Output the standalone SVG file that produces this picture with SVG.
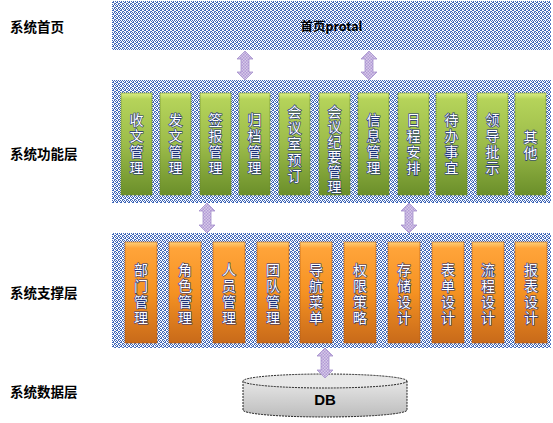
<svg xmlns="http://www.w3.org/2000/svg" width="553" height="423" viewBox="0 0 553 423">
<style>
.lbl{font-family:"Noto Sans CJK SC","Liberation Sans",sans-serif;font-size:13.5px;font-weight:bold;fill:#000}
.panel{fill:url(#weave)}
.g{fill:url(#gGreen);stroke:#6d8a2e;stroke-width:0.6}
.o{fill:url(#gOrange);stroke:#b35a14;stroke-width:0.6}
.bt{font-family:"Noto Sans CJK SC","Liberation Sans",sans-serif;font-size:14px;fill:#fff;stroke:#1b2f78;stroke-width:1.2;paint-order:stroke;text-anchor:middle}
.arr{fill:url(#lav);stroke:#a58fcb;stroke-width:0.8}
</style>
<defs>
<pattern id="weave" width="4" height="4" patternUnits="userSpaceOnUse">
<rect width="4" height="4" fill="#ffffff"/>
<rect x="0" y="0" width="1" height="1" fill="#3f66b8"/>
<rect x="2" y="0" width="1" height="1" fill="#3f66b8"/>
<rect x="1" y="1" width="1" height="1" fill="#3f66b8"/>
<rect x="3" y="1" width="1" height="1" fill="#3f66b8"/>
<rect x="0" y="2" width="2" height="1" fill="#3f66b8"/>
<rect x="3" y="3" width="1" height="1" fill="#3f66b8"/>
<rect x="2" y="3" width="1" height="1" fill="#5b80c8"/>
</pattern>
<pattern id="lav" width="3" height="3" patternUnits="userSpaceOnUse">
<rect width="3" height="3" fill="#d6cbe8"/>
<rect width="1.5" height="1.5" fill="#b39ad6"/>
<rect x="1.5" y="1.5" width="1.5" height="1.5" fill="#b39ad6"/>
</pattern>
<linearGradient id="gGreen" x1="0" y1="0" x2="0" y2="1">
<stop offset="0" stop-color="#d9ee84"/>
<stop offset="0.06" stop-color="#b5d35a"/>
<stop offset="0.5" stop-color="#9cbc4a"/>
<stop offset="1" stop-color="#6b8f2a"/>
</linearGradient>
<linearGradient id="gOrange" x1="0" y1="0" x2="0" y2="1">
<stop offset="0" stop-color="#ffd27a"/>
<stop offset="0.06" stop-color="#ffa43a"/>
<stop offset="0.5" stop-color="#f59222"/>
<stop offset="1" stop-color="#c86a1a"/>
</linearGradient>
<linearGradient id="gDb" x1="0" y1="0" x2="0" y2="1">
<stop offset="0" stop-color="#e6e6e6"/>
<stop offset="1" stop-color="#bdbdbd"/>
</linearGradient>
</defs>

<g id="layer-labels">
<text class="lbl" x="10" y="31.5">系统首页</text>
<text class="lbl" x="10" y="158.5">系统功能层</text>
<text class="lbl" x="10" y="297.5">系统支撑层</text>
<text class="lbl" x="10" y="396.5">系统数据层</text>
</g>

<g id="panel-home">
<rect class="panel" x="112" y="1" width="439" height="49"/>
<text x="331.5" y="31" text-anchor="middle" style="font-family:'Noto Sans CJK SC','Liberation Sans',sans-serif;font-size:12.5px;font-weight:bold">首页protal</text>
</g>

<g id="panel-function">
<rect class="panel" x="112" y="80" width="439" height="123"/>
</g>
<g id="panel-support">
<rect class="panel" x="112" y="233" width="439" height="115"/>
</g>

<g id="f1"><rect class="g" x="121" y="93" width="31" height="102"/><text class="bt" x="136.5" y="125">收<tspan x="136.5" dy="16">文</tspan><tspan x="136.5" dy="16">管</tspan><tspan x="136.5" dy="16">理</tspan></text></g>
<g id="f2"><rect class="g" x="160" y="93" width="31" height="102"/><text class="bt" x="175.5" y="125">发<tspan x="175.5" dy="16">文</tspan><tspan x="175.5" dy="16">管</tspan><tspan x="175.5" dy="16">理</tspan></text></g>
<g id="f3"><rect class="g" x="200" y="93" width="31" height="102"/><text class="bt" x="215.5" y="125">签<tspan x="215.5" dy="16">报</tspan><tspan x="215.5" dy="16">管</tspan><tspan x="215.5" dy="16">理</tspan></text></g>
<g id="f4"><rect class="g" x="239" y="93" width="31" height="102"/><text class="bt" x="254.5" y="125">归<tspan x="254.5" dy="16">档</tspan><tspan x="254.5" dy="16">管</tspan><tspan x="254.5" dy="16">理</tspan></text></g>
<g id="f5"><rect class="g" x="279" y="93" width="31" height="102"/><text class="bt" x="294.5" y="117">会<tspan x="294.5" dy="16">议</tspan><tspan x="294.5" dy="16">室</tspan><tspan x="294.5" dy="16">预</tspan><tspan x="294.5" dy="16">订</tspan></text></g>
<g id="f6"><rect class="g" x="319" y="93" width="31" height="102"/><text class="bt" x="334.5" y="117">会<tspan x="334.5" dy="15">议</tspan><tspan x="334.5" dy="15">纪</tspan><tspan x="334.5" dy="15">要</tspan><tspan x="334.5" dy="15">管</tspan><tspan x="334.5" dy="15">理</tspan></text></g>
<g id="f7"><rect class="g" x="358" y="93" width="31" height="102"/><text class="bt" x="373.5" y="125">信<tspan x="373.5" dy="16">息</tspan><tspan x="373.5" dy="16">管</tspan><tspan x="373.5" dy="16">理</tspan></text></g>
<g id="f8"><rect class="g" x="398" y="93" width="31" height="102"/><text class="bt" x="413.5" y="125">日<tspan x="413.5" dy="16">程</tspan><tspan x="413.5" dy="16">安</tspan><tspan x="413.5" dy="16">排</tspan></text></g>
<g id="f9"><rect class="g" x="436" y="93" width="31" height="102"/><text class="bt" x="451.5" y="125">待<tspan x="451.5" dy="16">办</tspan><tspan x="451.5" dy="16">事</tspan><tspan x="451.5" dy="16">宜</tspan></text></g>
<g id="f10"><rect class="g" x="477" y="93" width="31" height="102"/><text class="bt" x="492.5" y="125">领<tspan x="492.5" dy="16">导</tspan><tspan x="492.5" dy="16">批</tspan><tspan x="492.5" dy="16">示</tspan></text></g>
<g id="f11"><rect class="g" x="515" y="93" width="31" height="102"/><text class="bt" x="530.5" y="142">其<tspan x="530.5" dy="16">他</tspan></text></g>

<g id="s1"><rect class="o" x="125" y="242" width="32" height="101"/><text class="bt" x="141" y="275">部<tspan x="141" dy="16">门</tspan><tspan x="141" dy="16">管</tspan><tspan x="141" dy="16">理</tspan></text></g>
<g id="s2"><rect class="o" x="169" y="242" width="32" height="101"/><text class="bt" x="185" y="275">角<tspan x="185" dy="16">色</tspan><tspan x="185" dy="16">管</tspan><tspan x="185" dy="16">理</tspan></text></g>
<g id="s3"><rect class="o" x="213" y="242" width="32" height="101"/><text class="bt" x="229" y="275">人<tspan x="229" dy="16">员</tspan><tspan x="229" dy="16">管</tspan><tspan x="229" dy="16">理</tspan></text></g>
<g id="s4"><rect class="o" x="257" y="242" width="32" height="101"/><text class="bt" x="273" y="275">团<tspan x="273" dy="16">队</tspan><tspan x="273" dy="16">管</tspan><tspan x="273" dy="16">理</tspan></text></g>
<g id="s5"><rect class="o" x="300" y="242" width="32" height="101"/><text class="bt" x="316" y="275">导<tspan x="316" dy="16">航</tspan><tspan x="316" dy="16">菜</tspan><tspan x="316" dy="16">单</tspan></text></g>
<g id="s6"><rect class="o" x="344" y="242" width="32" height="101"/><text class="bt" x="360" y="275">权<tspan x="360" dy="16">限</tspan><tspan x="360" dy="16">策</tspan><tspan x="360" dy="16">略</tspan></text></g>
<g id="s7"><rect class="o" x="388" y="242" width="32" height="101"/><text class="bt" x="404" y="275">存<tspan x="404" dy="16">储</tspan><tspan x="404" dy="16">设</tspan><tspan x="404" dy="16">计</tspan></text></g>
<g id="s8"><rect class="o" x="432" y="242" width="32" height="101"/><text class="bt" x="448" y="275">表<tspan x="448" dy="16">单</tspan><tspan x="448" dy="16">设</tspan><tspan x="448" dy="16">计</tspan></text></g>
<g id="s9"><rect class="o" x="472" y="242" width="32" height="101"/><text class="bt" x="488" y="275">流<tspan x="488" dy="16">程</tspan><tspan x="488" dy="16">设</tspan><tspan x="488" dy="16">计</tspan></text></g>
<g id="s10"><rect class="o" x="515" y="242" width="32" height="101"/><text class="bt" x="531" y="275">报<tspan x="531" dy="16">表</tspan><tspan x="531" dy="16">设</tspan><tspan x="531" dy="16">计</tspan></text></g>

<g id="db">
<path d="M243,381 L243,410 A82,7 0 0 0 407,410 L407,381 Z" fill="url(#gDb)" stroke="#222" stroke-width="1" stroke-dasharray="2,1"/>
<ellipse cx="325" cy="381" rx="82" ry="7" fill="#e8e8e8" stroke="#222" stroke-width="1" stroke-dasharray="2,1"/>
<text x="325" y="404.5" text-anchor="middle" style="font-family:'Liberation Sans',sans-serif;font-size:15px;font-weight:bold">DB</text>
</g>

<g id="connectors">
<path class="arr" d="M245,51 L253,59 L249,59 L249,72 L253,72 L245,80 L237,72 L241,72 L241,59 L237,59 Z"/>
<path class="arr" d="M369,51 L377,59 L373,59 L373,72 L377,72 L369,80 L361,72 L365,72 L365,59 L361,59 Z"/>
<path class="arr" d="M207,203 L215,211 L211,211 L211,225 L215,225 L207,233 L199,225 L203,225 L203,211 L199,211 Z"/>
<path class="arr" d="M409,203 L417,211 L413,211 L413,225 L417,225 L409,233 L401,225 L405,225 L405,211 L401,211 Z"/>
<path class="arr" d="M325,348 L333,356 L329,356 L329,370 L333,370 L325,378 L317,370 L321,370 L321,356 L317,356 Z"/>
</g>
</svg>
